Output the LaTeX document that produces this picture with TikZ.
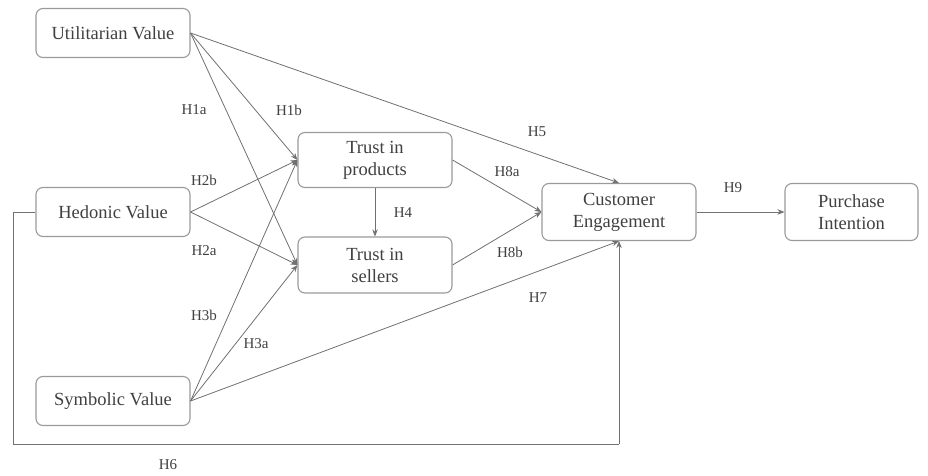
\documentclass[tikz,border=0pt]{standalone}
\usepackage{fontspec}
\setmainfont{Liberation Serif}
\newfontfamily\timesfont{Liberation Serif}
\usetikzlibrary{arrows.meta}
\definecolor{txt}{HTML}{404040}
\definecolor{boxgray}{HTML}{9A9A9A}
\definecolor{linegray}{HTML}{707070}
\begin{document}
\begin{tikzpicture}[x=1pt,y=-1pt,
  box/.style={draw=boxgray, line width=1.1pt, rounded corners=7pt, minimum width=154pt, minimum height=49pt, align=center, font=\timesfont\fontsize{18.5}{22}\selectfont, text=txt, inner sep=0pt},
  lab/.style={font=\timesfont\fontsize{15}{17}\selectfont, text=txt, inner sep=0pt},
  conn/.style={draw=linegray, line width=0.8pt, -{Stealth[length=7pt,width=5.5pt]}},
  plainln/.style={draw=linegray, line width=0.8pt}
]
\useasboundingbox (0,0) rectangle (928,476);
\node[box] (uv) at (113,33) {Utilitarian Value};
\node[box] (hv) at (113,212) {Hedonic Value};
\node[box] (sv) at (113,401) {Symbolic Value};
\node[box, minimum height=55pt] (tp) at (375,160) {Trust in\\products};
\node[box, minimum height=56pt] (ts) at (375,265) {Trust in\\sellers};
\node[box, minimum height=57pt] (ce) at (619,212) {Customer\\Engagement};
\node[box, minimum width=133pt, minimum height=57pt] (pi) at (851.5,212) {Purchase\\Intention};
\coordinate (h6a) at (13,212);
\coordinate (h6b) at (13,444);
\coordinate (h6c) at (619,444);

\draw[conn] (uv.east) -- (ce.north);
\draw[conn] (uv.east) -- (tp.west);
\draw[conn] (uv.east) -- (ts.west);
\draw[conn] (hv.east) -- (tp.west);
\draw[conn] (hv.east) -- (ts.west);
\draw[conn] (sv.east) -- (tp.west);
\draw[conn] (sv.east) -- (ts.west);
\draw[conn] (sv.east) -- (ce.south);
\draw[conn] (tp.south) -- (ts.north);
\draw[conn] (tp.east) -- (ce.west);
\draw[conn] (ts.east) -- (ce.west);
\draw[conn] (ce.east) -- (pi.west);
\draw[plainln] (hv.west) -- (h6a) -- (h6b) -- (h6c);
\draw[conn] (h6c) -- (ce.south);

\node[lab] (l1a) at (194,110) {H1a};
\node[lab] (l1b) at (289,110) {H1b};
\node[lab] (l2b) at (204,180) {H2b};
\node[lab] (l2a) at (204,251) {H2a};
\node[lab] (l3b) at (204,315) {H3b};
\node[lab] (l3a) at (256,344) {H3a};
\node[lab] (l5) at (537,132) {H5};
\node[lab] (l8a) at (507,172) {H8a};
\node[lab] (l4) at (403,213) {H4};
\node[lab] (l8b) at (510,252) {H8b};
\node[lab] (l7) at (538,298) {H7};
\node[lab] (l9) at (733,188) {H9};
\node[lab] (l6) at (168,465) {H6};
\end{tikzpicture}
\end{document}
